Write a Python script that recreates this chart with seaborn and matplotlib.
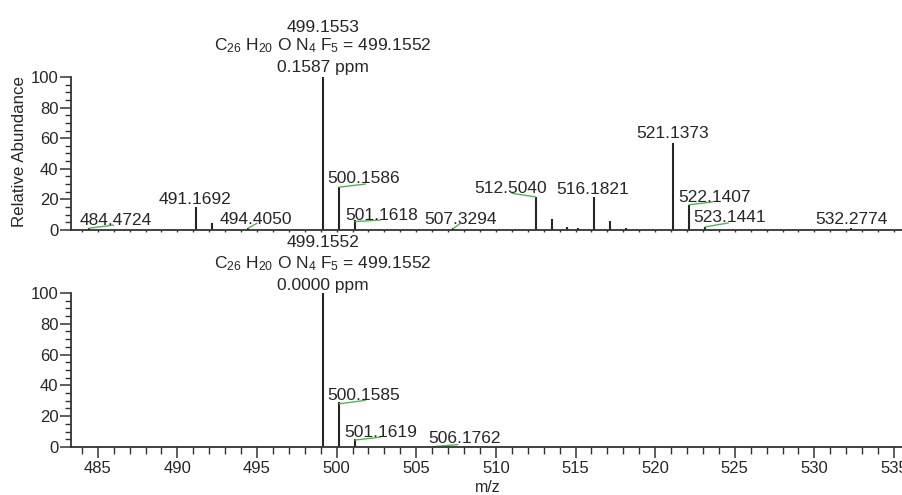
import numpy as np
import pandas as pd
import matplotlib
matplotlib.use("Agg")
import matplotlib.pyplot as plt
from matplotlib.ticker import MultipleLocator
import seaborn as sns

# measured spectrum (top) and theoretical isotope pattern (bottom)
meas_mz = [484.4724, 491.1692, 492.19, 494.4050, 499.1553, 500.1586, 501.1618, 507.3294,
           512.5040, 513.50, 514.46, 515.15, 516.1821, 517.16, 518.14,
           521.1373, 522.1407, 523.1441, 532.2774]
meas_int = [1.0, 15.0, 4.6, 1.0, 100.0, 28.0, 6.5, 1.0,
            21.6, 7.5, 2.0, 1.2, 21.5, 6.0, 1.5,
            57.0, 16.5, 2.0, 1.0]
meas_labels = ["484.4724", "491.1692", "494.4050", "500.1586", "501.1618", "507.3294",
               "512.5040", "516.1821", "521.1373", "522.1407", "523.1441", "532.2774"]

theo_mz = [499.1552, 500.1585, 501.1619, 506.1762]
theo_int = [100.0, 29.0, 5.0, 0.5]
theo_labels = ["500.1585", "501.1619", "506.1762"]

formula = "C$_{26}$ H$_{20}$ O N$_{4}$ F$_{5}$ = 499.1552"
meas_head = ["499.1553", formula, "0.1587 ppm"]
theo_head = ["499.1552", formula, "0.0000 ppm"]

# label placement: (text x, text baseline y, leader start, leader end)
meas_place = [(486.1, 3.3, (484.47, 1.2), (486.0, 3.2)),
              (491.1, 17.0, None, None),
              (494.9, 3.9, (494.45, 1.2), (495.0, 4.4)),
              (501.7, 30.7, (500.16, 28.0), (501.8, 30.0)),
              (502.8, 6.5, (501.16, 5.5), (502.75, 6.5)),
              (507.8, 3.9, (507.33, 1.0), (507.75, 4.2)),
              (510.9, 24.2, (512.50, 21.6), (511.0, 24.0)),
              (516.1, 23.5, None, None),
              (521.1, 60.0, None, None),
              (523.7, 18.5, (522.14, 16.5), (523.6, 18.3)),
              (524.7, 5.2, (523.14, 2.0), (524.6, 4.6)),
              (532.3, 3.9, None, None)]
theo_place = [(501.7, 30.5, (500.16, 28.0), (501.8, 30.3)),
              (502.75, 6.5, (501.16, 4.5), (502.75, 6.4)),
              (508.05, 2.6, (506.05, 0.2), (507.6, 1.5))]

sns.set_theme(style="ticks")
plt.rcParams['font.family'] = ['Liberation Sans', 'DejaVu Sans']
plt.rcParams['mathtext.fontset'] = 'custom'
plt.rcParams['mathtext.rm'] = 'Liberation Sans'
plt.rcParams['mathtext.it'] = 'Liberation Sans'

ink = "#262626"
green = "#4cb84c"
fs = 12.5

fig = plt.figure(figsize=(9.02, 4.95), dpi=100)
ax1 = fig.add_axes([0.0787, 0.5354, 0.9213, 0.3091])
ax2 = fig.add_axes([0.0787, 0.0970, 0.9213, 0.3111])


def draw(ax, mz, inten, labels, place, head, head_y):
    df = pd.DataFrame({"mz": mz, "int": inten})
    ax.vlines(df["mz"], 0, df["int"], color=ink, lw=1.5)
    ax.set_xlim(483.32, 535.5)
    ax.set_ylim(0, 100)
    for lab, (tx, ty, p0, p1) in zip(labels, place):
        ax.text(tx, ty, lab, ha="center", va="baseline", fontsize=fs, color=ink, clip_on=False)
        if p0 is not None:
            ax.plot([p0[0], p1[0]], [p0[1], p1[1]], color=green, lw=1.0, clip_on=False)
    top_mz = df.loc[df["int"].idxmax(), "mz"]
    for txt, y in zip(head, head_y):
        ax.text(top_mz, y, txt, ha="center", va="baseline", fontsize=fs, color=ink, clip_on=False)
    sns.despine(ax=ax)
    for s in ["left", "bottom"]:
        ax.spines[s].set_color("#333333")
        ax.spines[s].set_linewidth(1.3)
    ax.yaxis.set_major_locator(MultipleLocator(20))
    ax.yaxis.set_minor_locator(MultipleLocator(5))
    ax.tick_params(axis="y", which="major", length=8, width=1.1, color="#333333",
                   labelsize=12, labelcolor=ink, pad=1)
    ax.tick_params(axis="y", which="minor", length=4.5, width=1.0, color="#333333")
    ax.xaxis.set_major_locator(MultipleLocator(5))
    ax.xaxis.set_minor_locator(MultipleLocator(1))


draw(ax1, meas_mz, meas_int, meas_labels, meas_place, meas_head, [129.4, 117.6, 103.3])
draw(ax2, theo_mz, theo_int, theo_labels, theo_place, theo_head, [129.9, 116.2, 102.0])

ax1.tick_params(axis="x", which="both", length=1.5, width=1.0, color="#333333", labelbottom=False)
ax2.tick_params(axis="x", which="major", length=8, width=1.1, color="#333333",
                labelsize=12, labelcolor=ink, pad=2)
ax2.tick_params(axis="x", which="minor", length=5, width=1.0, color="#333333")

fig.text(0.022, 0.693, "Relative Abundance", rotation=90, ha="center", va="center",
         fontsize=12.2, color=ink)
fig.text(0.541, 0.016, "m/z", ha="center", va="center", fontsize=11.5, color=ink)

fig.savefig("out.png", dpi=100)
